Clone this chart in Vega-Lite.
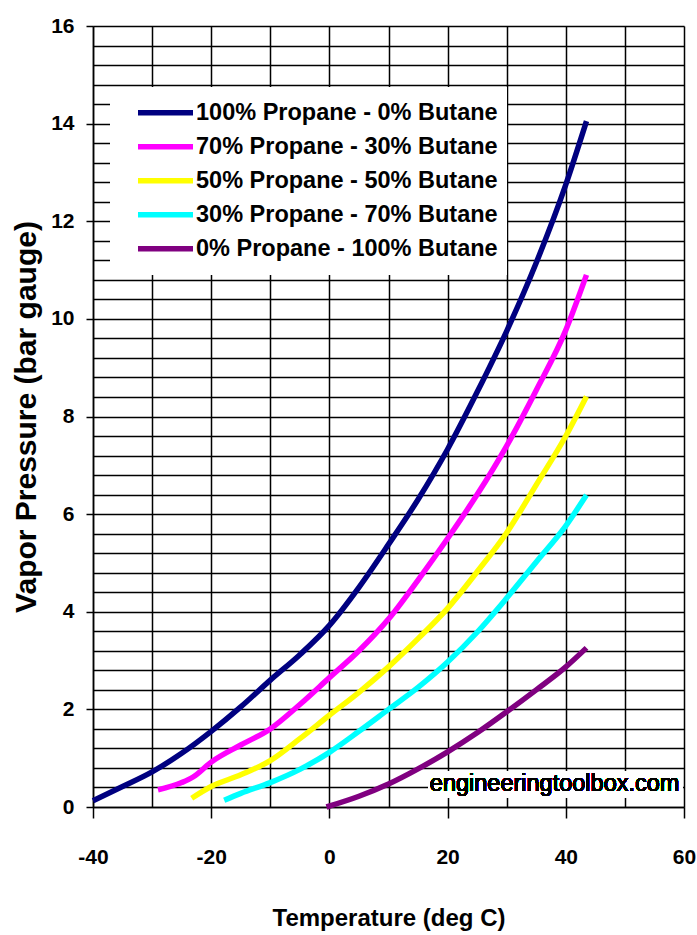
{
  "$schema": "https://vega.github.io/schema/vega-lite/v6.json",
  "width": 591,
  "height": 781,
  "autosize": {"type": "none"},
  "padding": {"left": 93, "top": 26, "right": 13, "bottom": 128},
  "background": "white",
  "config": {"view": {"stroke": null}, "font": "Liberation Sans"},
  "data": {
    "values": [
      {"series": "100% Propane - 0% Butane", "T": -40, "P": 0.13},
      {"series": "100% Propane - 0% Butane", "T": -35, "P": 0.42},
      {"series": "100% Propane - 0% Butane", "T": -30, "P": 0.72},
      {"series": "100% Propane - 0% Butane", "T": -25, "P": 1.1},
      {"series": "100% Propane - 0% Butane", "T": -20, "P": 1.55},
      {"series": "100% Propane - 0% Butane", "T": -15, "P": 2.05},
      {"series": "100% Propane - 0% Butane", "T": -10, "P": 2.6},
      {"series": "100% Propane - 0% Butane", "T": -5, "P": 3.12},
      {"series": "100% Propane - 0% Butane", "T": 0, "P": 3.72},
      {"series": "100% Propane - 0% Butane", "T": 5, "P": 4.5},
      {"series": "100% Propane - 0% Butane", "T": 10, "P": 5.38},
      {"series": "100% Propane - 0% Butane", "T": 15, "P": 6.3},
      {"series": "100% Propane - 0% Butane", "T": 20, "P": 7.33},
      {"series": "100% Propane - 0% Butane", "T": 25, "P": 8.5},
      {"series": "100% Propane - 0% Butane", "T": 30, "P": 9.75},
      {"series": "100% Propane - 0% Butane", "T": 35, "P": 11.15},
      {"series": "100% Propane - 0% Butane", "T": 40, "P": 12.75},
      {"series": "100% Propane - 0% Butane", "T": 43.5, "P": 14.05},
      {"series": "70% Propane - 30% Butane", "T": -29, "P": 0.35},
      {"series": "70% Propane - 30% Butane", "T": -25, "P": 0.5},
      {"series": "70% Propane - 30% Butane", "T": -23, "P": 0.62},
      {"series": "70% Propane - 30% Butane", "T": -20, "P": 0.92},
      {"series": "70% Propane - 30% Butane", "T": -15, "P": 1.27},
      {"series": "70% Propane - 30% Butane", "T": -10, "P": 1.6},
      {"series": "70% Propane - 30% Butane", "T": -5, "P": 2.1},
      {"series": "70% Propane - 30% Butane", "T": 0, "P": 2.65},
      {"series": "70% Propane - 30% Butane", "T": 5, "P": 3.2},
      {"series": "70% Propane - 30% Butane", "T": 10, "P": 3.85},
      {"series": "70% Propane - 30% Butane", "T": 15, "P": 4.65},
      {"series": "70% Propane - 30% Butane", "T": 20, "P": 5.5},
      {"series": "70% Propane - 30% Butane", "T": 25, "P": 6.4},
      {"series": "70% Propane - 30% Butane", "T": 30, "P": 7.4},
      {"series": "70% Propane - 30% Butane", "T": 35, "P": 8.54},
      {"series": "70% Propane - 30% Butane", "T": 40, "P": 9.77},
      {"series": "70% Propane - 30% Butane", "T": 43.5, "P": 10.9},
      {"series": "50% Propane - 50% Butane", "T": -23.3, "P": 0.18},
      {"series": "50% Propane - 50% Butane", "T": -20, "P": 0.42},
      {"series": "50% Propane - 50% Butane", "T": -15, "P": 0.66},
      {"series": "50% Propane - 50% Butane", "T": -10, "P": 0.95},
      {"series": "50% Propane - 50% Butane", "T": -5, "P": 1.4},
      {"series": "50% Propane - 50% Butane", "T": 0, "P": 1.88},
      {"series": "50% Propane - 50% Butane", "T": 5, "P": 2.35},
      {"series": "50% Propane - 50% Butane", "T": 10, "P": 2.87},
      {"series": "50% Propane - 50% Butane", "T": 15, "P": 3.45},
      {"series": "50% Propane - 50% Butane", "T": 20, "P": 4.07},
      {"series": "50% Propane - 50% Butane", "T": 25, "P": 4.82},
      {"series": "50% Propane - 50% Butane", "T": 30, "P": 5.62},
      {"series": "50% Propane - 50% Butane", "T": 35, "P": 6.6},
      {"series": "50% Propane - 50% Butane", "T": 40, "P": 7.6},
      {"series": "50% Propane - 50% Butane", "T": 43.5, "P": 8.41},
      {"series": "30% Propane - 70% Butane", "T": -17.8, "P": 0.14},
      {"series": "30% Propane - 70% Butane", "T": -15, "P": 0.28},
      {"series": "30% Propane - 70% Butane", "T": -10, "P": 0.5},
      {"series": "30% Propane - 70% Butane", "T": -5, "P": 0.77},
      {"series": "30% Propane - 70% Butane", "T": 0, "P": 1.12},
      {"series": "30% Propane - 70% Butane", "T": 5, "P": 1.55},
      {"series": "30% Propane - 70% Butane", "T": 10, "P": 2.0},
      {"series": "30% Propane - 70% Butane", "T": 15, "P": 2.45},
      {"series": "30% Propane - 70% Butane", "T": 20, "P": 2.97},
      {"series": "30% Propane - 70% Butane", "T": 25, "P": 3.58},
      {"series": "30% Propane - 70% Butane", "T": 30, "P": 4.28},
      {"series": "30% Propane - 70% Butane", "T": 35, "P": 5.02},
      {"series": "30% Propane - 70% Butane", "T": 40, "P": 5.76},
      {"series": "30% Propane - 70% Butane", "T": 43.5, "P": 6.39},
      {"series": "0% Propane - 100% Butane", "T": -0.5, "P": 0.0},
      {"series": "0% Propane - 100% Butane", "T": 5, "P": 0.22},
      {"series": "0% Propane - 100% Butane", "T": 10, "P": 0.47},
      {"series": "0% Propane - 100% Butane", "T": 15, "P": 0.78},
      {"series": "0% Propane - 100% Butane", "T": 20, "P": 1.13},
      {"series": "0% Propane - 100% Butane", "T": 25, "P": 1.52},
      {"series": "0% Propane - 100% Butane", "T": 30, "P": 1.95},
      {"series": "0% Propane - 100% Butane", "T": 35, "P": 2.4},
      {"series": "0% Propane - 100% Butane", "T": 40, "P": 2.87},
      {"series": "0% Propane - 100% Butane", "T": 43.5, "P": 3.26}
    ]
  },
  "layer": [
    {
      "mark": {"type": "line", "strokeWidth": 5.5, "interpolate": "monotone"},
      "encoding": {
        "x": {
          "field": "T", "type": "quantitative",
          "scale": {"domain": [-40, 60], "nice": false, "zero": false},
          "axis": {
            "title": "Temperature (deg C)",
            "values": [-40, -30, -20, -10, 0, 10, 20, 30, 40, 50, 60],
            "tickCount": 1000,
            "grid": true, "gridColor": "black", "gridWidth": 1.5, "gridOpacity": 1,
            "domainColor": "black", "domainWidth": 1.5,
            "tickColor": "black", "tickWidth": 1.5, "tickSize": 11,
            "tickOpacity": {"condition": {"test": "datum.value % 20 === 0", "value": 1}, "value": 0},
            "labelExpr": "datum.value % 20 === 0 ? '' + datum.value : ''",
            "labelFont": "Liberation Sans", "labelFontSize": 21, "labelFontWeight": "bold", "labelColor": "black",
            "labelPadding": 28, "labelFlush": false, "labelOverlap": false,
            "titleFont": "Liberation Sans", "titleFontSize": 24, "titleFontWeight": "bold", "titleColor": "black",
            "titlePadding": 39
          }
        },
        "y": {
          "field": "P", "type": "quantitative",
          "scale": {"domain": [0, 16], "nice": false},
          "axis": {
            "title": "Vapor Pressure (bar gauge)",
            "values": [0, 0.4, 0.8, 1.2, 1.6, 2, 2.4, 2.8, 3.2, 3.6, 4, 4.4, 4.8, 5.2, 5.6, 6, 6.4, 6.8, 7.2, 7.6, 8, 8.4, 8.8, 9.2, 9.6, 10, 10.4, 10.8, 11.2, 11.6, 12, 12.4, 12.8, 13.2, 13.6, 14, 14.4, 14.8, 15.2, 15.6, 16],
            "tickCount": 1000,
            "grid": true, "gridColor": "black", "gridWidth": 1.5, "gridOpacity": 1,
            "domainColor": "black", "domainWidth": 1.5,
            "tickColor": "black", "tickWidth": 1.5, "tickSize": 7,
            "tickOpacity": {"condition": {"test": "datum.value % 2 === 0", "value": 1}, "value": 0},
            "labelExpr": "datum.value % 2 === 0 ? '' + datum.value : ''",
            "labelFont": "Liberation Sans", "labelFontSize": 21, "labelFontWeight": "bold", "labelColor": "black",
            "labelPadding": 12, "labelFlush": false, "labelOverlap": false,
            "titleFont": "Liberation Sans", "titleFontSize": 30, "titleFontWeight": "bold", "titleColor": "black",
            "titlePadding": 9
          }
        },
        "color": {
          "field": "series", "type": "nominal",
          "scale": {
            "domain": ["100% Propane - 0% Butane", "70% Propane - 30% Butane", "50% Propane - 50% Butane", "30% Propane - 70% Butane", "0% Propane - 100% Butane"],
            "range": ["#000080", "#ff00ff", "#ffff00", "#00ffff", "#800080"]
          },
          "legend": {
            "orient": "none", "legendX": 17, "legendY": 61,
            "title": null, "fillColor": "white", "padding": 9,
            "symbolType": "stroke", "symbolSize": 3025, "symbolStrokeWidth": 5.5, "symbolOffset": 16,
            "clipHeight": 33.3, "rowPadding": 0,
            "labelFont": "Liberation Sans", "labelFontSize": 23.5, "labelFontWeight": "bold", "labelColor": "black",
            "labelOffset": 0, "labelLimit": 400
          }
        }
      }
    },
    {
      "mark": {"type": "rect", "color": "white"},
      "encoding": {
        "x": {"datum": 16.8, "type": "quantitative"},
        "x2": {"datum": 59.7},
        "y": {"datum": 0.2, "type": "quantitative"},
        "y2": {"datum": 0.73}
      }
    },
    {
      "mark": {"type": "text", "align": "left", "baseline": "middle", "font": "Liberation Sans", "fontSize": 23.5, "color": "black"},
      "encoding": {
        "x": {"datum": 17, "type": "quantitative"},
        "y": {"datum": 0.48, "type": "quantitative"},
        "text": {"value": "engineeringtoolbox.com"}
      }
    }
  ]
}
